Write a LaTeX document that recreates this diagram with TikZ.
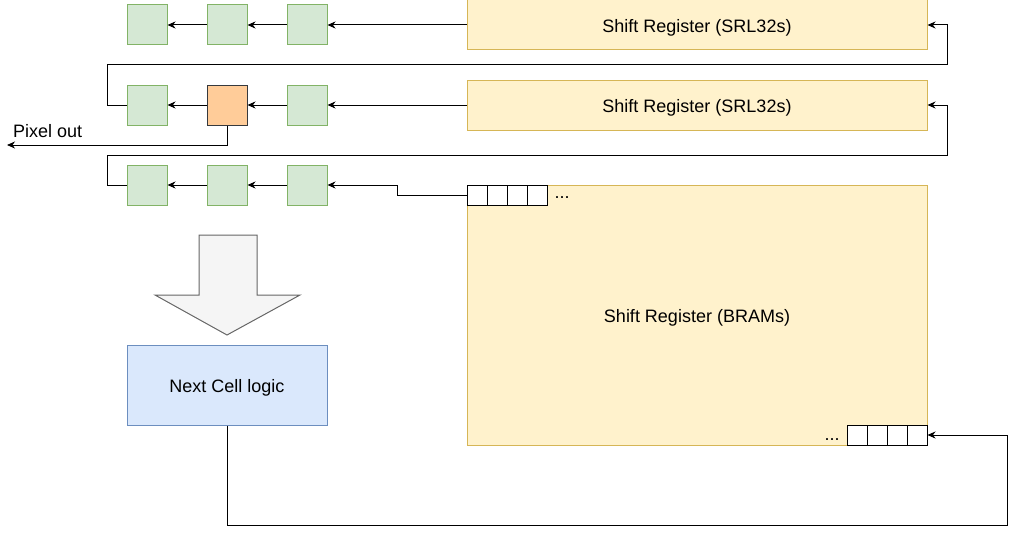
\documentclass[tikz,border=0pt]{standalone}
\usepackage{fontspec}
\setmainfont{Liberation Sans}
\usetikzlibrary{arrows.meta}
\definecolor{gfill}{HTML}{D5E8D4}
\definecolor{gline}{HTML}{82B366}
\definecolor{ofill}{HTML}{FFCC99}
\definecolor{oline}{HTML}{36393D}
\definecolor{yfill}{HTML}{FFF2CC}
\definecolor{yline}{HTML}{D6B656}
\definecolor{bfill}{HTML}{DAE8FC}
\definecolor{bline}{HTML}{6C8EBF}
\definecolor{afill}{HTML}{F5F5F5}
\definecolor{aline}{HTML}{666666}
\tikzset{
  cell/.style={draw=gline, fill=gfill, line width=1pt, minimum width=40pt, minimum height=40pt, inner sep=0pt},
  ocell/.style={draw=oline, fill=ofill, line width=1pt, minimum width=40pt, minimum height=40pt, inner sep=0pt},
  reg/.style={draw=yline, fill=yfill, line width=1pt, minimum width=460pt, inner sep=0pt},
  small/.style={draw=black, fill=white, line width=1pt, minimum width=20pt, minimum height=20pt, inner sep=0pt},
  logic/.style={draw=bline, fill=bfill, line width=1pt, minimum width=200pt, minimum height=80pt, inner sep=0pt},
  lbl/.style={inner sep=0pt, font=\fontsize{18}{21}\selectfont},
  conn/.style={line width=1pt, -{Stealth[length=8pt,width=7pt,inset=2.5pt]}},
}
\begin{document}
\begin{tikzpicture}[x=1pt,y=-1pt]
\useasboundingbox (0,0) rectangle (1017,535);
% registers
\node[reg, minimum height=50pt] (srl1) at (697,25) {};
\node[reg, minimum height=50pt] (srl2) at (697,105) {};
\node[reg, minimum height=260pt] (bram) at (697,315) {};
\node[lbl] at (697,27.5) {Shift Register (SRL32s)};
\node[lbl] at (697,107.5) {Shift Register (SRL32s)};
\node[lbl] at (697,317.5) {Shift Register (BRAMs)};
% cells
\node[cell] (g11) at (147,25) {};
\node[cell] (g12) at (227,25) {};
\node[cell] (g13) at (307,25) {};
\node[cell] (g21) at (147,105) {};
\node[ocell] (g22) at (227,105) {};
\node[cell] (g23) at (307,105) {};
\node[cell] (g31) at (147,185) {};
\node[cell] (g32) at (227,185) {};
\node[cell] (g33) at (307,185) {};
% small bram cells
\node[small] (t1) at (477,195) {};
\node[small] (t2) at (497,195) {};
\node[small] (t3) at (517,195) {};
\node[small] (t4) at (537,195) {};
\node[lbl, anchor=base] (tdots) at (562,198) {...};
\node[small] (b1) at (857,435) {};
\node[small] (b2) at (877,435) {};
\node[small] (b3) at (897,435) {};
\node[small] (b4) at (917,435) {};
\node[lbl, anchor=base] (bdots) at (832,440) {...};
% logic
\node[logic] (ncl) at (227,385) {};
\node[lbl] at (227,387.5) {Next Cell logic};
\draw[draw=aline, fill=afill, line width=1pt] (199,235) -- (257,235) -- (257,295) -- (300,295) -- (227,335) -- (155,295) -- (199,295) -- cycle;
% pixel out
\node[lbl, anchor=west] (pix) at (13,131) {Pixel out};
\coordinate (pixend) at (7,145);
% connectors
\draw[conn] (srl1.west) -- (g13.east);
\draw[conn] (g13.west) -- (g12.east);
\draw[conn] (g12.west) -- (g11.east);
\draw[conn] (srl2.west) -- (g23.east);
\draw[conn] (g23.west) -- (g22.east);
\draw[conn] (g22.west) -- (g21.east);
\draw[conn] (g33.west) -- (g32.east);
\draw[conn] (g32.west) -- (g31.east);
\draw[conn] (g21.west) -- (107,105) -- (107,65) -- (947,65) -- (947,25) -- (srl1.east);
\draw[conn] (g31.west) -- (107,185) -- (107,155) -- (947,155) -- (947,105) -- (srl2.east);
\draw[conn] (g22.south) -- (227,145) -- (pixend);
\draw[conn] (t1.west) -- (397,195) -- (397,185) -- (g33.east);
\draw[conn] (ncl.south) -- (227,525) -- (1007,525) -- (1007,435) -- (b4.east);
\end{tikzpicture}
\end{document}
